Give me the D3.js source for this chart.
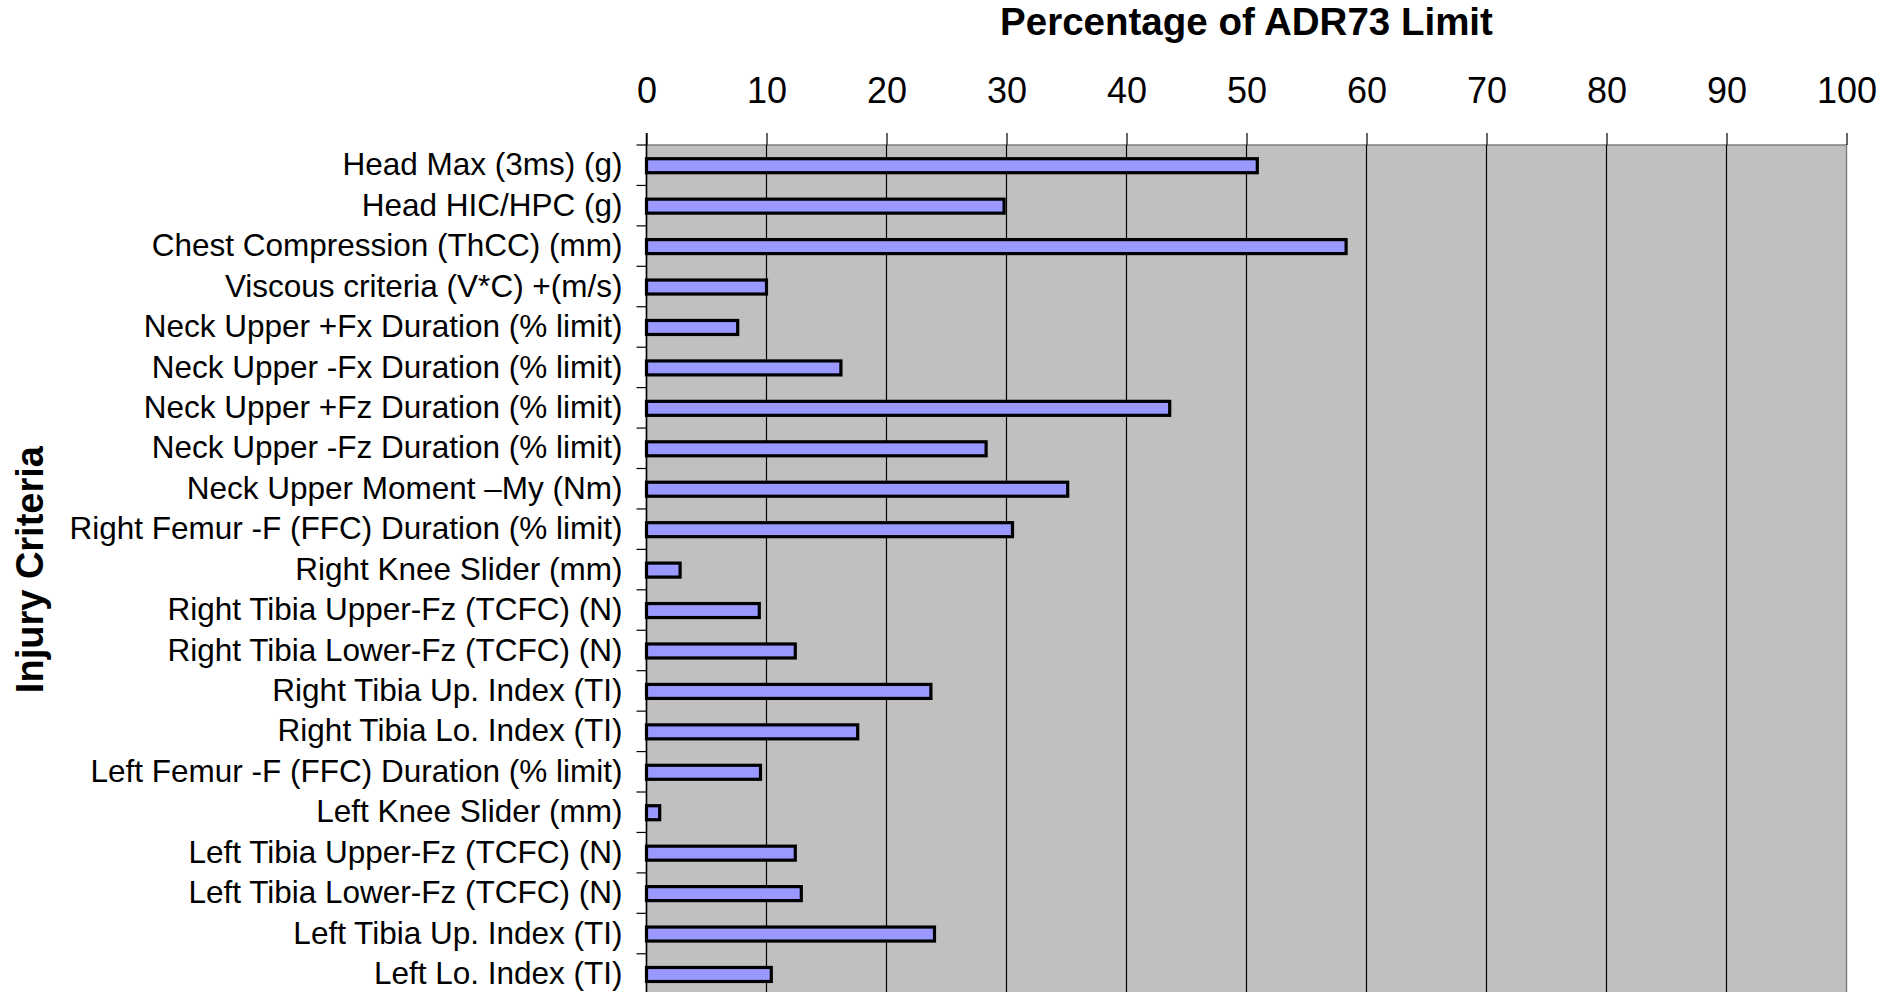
<!DOCTYPE html>
<html>
<head>
<meta charset="utf-8">
<script src="https://cdn.jsdelivr.net/npm/d3@7"></script>
<style>
    body { margin: 0; background: #ffffff; }
    svg text { font-family: "Liberation Sans", Arial, sans-serif; fill: #000; }
</style>
</head>
<body>
<svg id="chart" width="1899" height="992"></svg>
<script>

// data
var categories = [
    "Head Max (3ms) (g)",
    "Head HIC/HPC (g)",
    "Chest Compression (ThCC) (mm)",
    "Viscous criteria (V*C) +(m/s)",
    "Neck Upper +Fx Duration (% limit)",
    "Neck Upper -Fx Duration (% limit)",
    "Neck Upper +Fz Duration (% limit)",
    "Neck Upper -Fz Duration (% limit)",
    "Neck Upper Moment \u2013My (Nm)",
    "Right Femur -F (FFC) Duration (% limit)",
    "Right Knee Slider (mm)",
    "Right Tibia Upper-Fz (TCFC) (N)",
    "Right Tibia Lower-Fz (TCFC) (N)",
    "Right Tibia Up. Index (TI)",
    "Right Tibia Lo. Index (TI)",
    "Left Femur -F (FFC) Duration (% limit)",
    "Left Knee Slider (mm)",
    "Left Tibia Upper-Fz (TCFC) (N)",
    "Left Tibia Lower-Fz (TCFC) (N)",
    "Left Tibia Up. Index (TI)",
    "Left Lo. Index (TI)"
];

var values = [50.9, 29.8, 58.3, 10.0, 7.6, 16.2, 43.6, 28.3, 35.1, 30.5,
              2.8, 9.4, 12.4, 23.7, 17.6, 9.5, 1.1, 12.4, 12.9, 24.0, 10.4];

var xTicks = [0, 10, 20, 30, 40, 50, 60, 70, 80, 90, 100];

var xTitle = "Percentage of ADR73 Limit";
var yTitle = "Injury Criteria";

// canvas
var svg = d3.select("#chart");

var plot = {left: 646.5, right: 1846.5, top: 145, bottom: 994.2};

var x = d3.scaleLinear()
    .domain([0, 100])
    .range([plot.left, plot.right]);

var y = d3.scaleBand()
    .domain(categories)
    .range([plot.top, plot.bottom])
    .padding(0);

var step = y.bandwidth();
var barH = 14;

// plot background
svg.append("rect")
    .attr("x", plot.left)
    .attr("y", plot.top)
    .attr("width", plot.right - plot.left)
    .attr("height", plot.bottom - plot.top)
    .attr("fill", "#c0c0c0")
    .attr("stroke", "#808080")
    .attr("stroke-width", 1.5);

// gridlines
svg.append("g")
    .attr("class", "grid")
    .selectAll("line")
    .data(xTicks.filter(function(d){ return d > 0 && d < 100; }))
    .enter().append("line")
    .attr("x1", function(d){ return x(d); })
    .attr("x2", function(d){ return x(d); })
    .attr("y1", plot.top)
    .attr("y2", plot.bottom)
    .attr("stroke", "#000")
    .attr("stroke-width", 1.2);

// bars
svg.append("g")
    .attr("class", "bars")
    .selectAll("rect")
    .data(values)
    .enter().append("rect")
    .attr("x", x(0))
    .attr("y", function(d, i){ return y(categories[i]) + (step - barH) / 2 + 0.5; })
    .attr("width", function(d){ return x(d) - x(0); })
    .attr("height", barH)
    .attr("fill", "#9999ff")
    .attr("stroke", "#000")
    .attr("stroke-width", 3.2);

// top axis
var xAxis = svg.append("g")
    .attr("transform", "translate(0," + plot.top + ")")
    .call(d3.axisTop(x).tickValues(xTicks).tickSize(12).tickPadding(30).tickFormat(d3.format("d")));
xAxis.select(".domain").remove();
xAxis.selectAll(".tick line").attr("stroke", "#000").attr("stroke-width", 1.2);
xAxis.selectAll("text")
    .attr("font-size", 36)
    .attr("fill", "#000");

// left axis: labels centred on bands, ticks on band edges
var yAxis = svg.append("g")
    .attr("transform", "translate(" + plot.left + ",0)")
    .call(d3.axisLeft(y).tickSize(0).tickPadding(24));
yAxis.select(".domain").remove();
yAxis.selectAll("text")
    .attr("font-size", 31.5)
    .attr("fill", "#000");

var edges = categories.map(function(c){ return y(c); });
edges.push(plot.bottom);

svg.append("g")
    .attr("class", "yticks")
    .selectAll("line")
    .data(edges)
    .enter().append("line")
    .attr("x1", plot.left - 10)
    .attr("x2", plot.left)
    .attr("y1", function(d){ return d; })
    .attr("y2", function(d){ return d; })
    .attr("stroke", "#000")
    .attr("stroke-width", 1.2);

svg.append("line")
    .attr("x1", plot.left)
    .attr("x2", plot.left)
    .attr("y1", plot.top - 12)
    .attr("y2", plot.bottom)
    .attr("stroke", "#000")
    .attr("stroke-width", 1.5);

// titles
svg.append("text")
    .attr("x", (plot.left + plot.right) / 2)
    .attr("y", 35)
    .attr("text-anchor", "middle")
    .attr("font-size", 38.5)
    .attr("font-weight", "bold")
    .text(xTitle);

svg.append("text")
    .attr("transform", "translate(43," + ((plot.top + plot.bottom) / 2) + ") rotate(-90)")
    .attr("text-anchor", "middle")
    .attr("font-size", 38)
    .attr("font-weight", "bold")
    .text(yTitle);

</script>
</body>
</html>
